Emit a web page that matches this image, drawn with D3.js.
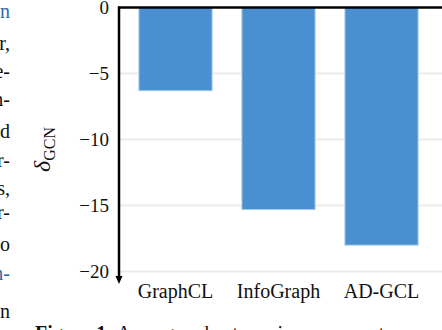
<!DOCTYPE html>
<html>
<head>
  <meta charset="UTF-8">
  <title>Robustness bars</title>
  <script src="https://d3js.org/d3.v7.min.js"></script>
  <style>
    body { margin: 0; background: #fff; overflow: hidden; }
    svg text { font-family: "Liberation Serif", "DejaVu Serif", serif; }
  </style>
</head>
<body>
  <div id="chart"></div>
  <script>
    const categories = ["GraphCL", "InfoGraph", "AD-GCL"];
    const deltas = [-6.3, -15.3, -18.0];
    const yTicks = [0, -5, -10, -15, -20];
    const gridTicks = [-5, -10, -15, -20];
    // clipped words of the paper column left of the figure
    const sideText = [
      { t: "n", blue: true }, { t: "r," }, { t: "e-" }, { t: "n-" }, { t: "d" }, { t: "r-" },
      { t: "s," }, { t: "r-" }, { t: "o" }, { t: "n-", blue: true }, { t: "n" }
    ];
    const sideBaselines = [18, 50, 78, 106, 138, 167, 195, 219, 251, 280, 318];

    const W = 442, H = 330;
    const axisX = 119;

    const svg = d3.select("#chart").append("svg")
      .attr("width", W).attr("height", H);

    const y = d3.scaleLinear().domain([0, -20]).range([7.5, 271.5]);
    const x = d3.scaleBand().domain(categories).range([124, 433])
      .paddingInner(0.29).paddingOuter(0.145);

    // grid
    svg.append("g").selectAll("line").data(gridTicks).enter().append("line")
      .attr("x1", axisX).attr("x2", W)
      .attr("y1", d => y(d)).attr("y2", d => y(d))
      .attr("stroke", "#ececec").attr("stroke-width", 2);

    // bars
    svg.append("g").selectAll("rect").data(deltas).enter().append("rect")
      .attr("x", (d, i) => x(categories[i]))
      .attr("y", y(0))
      .attr("width", x.bandwidth())
      .attr("height", d => y(d) - y(0))
      .attr("fill", "#4a8fcf")
      .attr("stroke", "#a5c8ea").attr("stroke-width", 1);

    // top line
    svg.append("line").attr("x1", axisX - 1).attr("x2", W)
      .attr("y1", y(0)).attr("y2", y(0))
      .attr("stroke", "#000").attr("stroke-width", 2.5);

    // y axis with arrow
    const yAxis = d3.axisLeft(y).tickValues(yTicks).tickSize(0).tickPadding(10)
      .tickFormat(d3.format("d"));
    const gy = svg.append("g").attr("transform", `translate(${axisX},0)`).call(yAxis);
    gy.select(".domain").remove();
    gy.selectAll("text").attr("font-size", 19).attr("fill", "#111")
      .attr("font-family", "Liberation Serif, serif");
    svg.append("line").attr("x1", axisX).attr("x2", axisX)
      .attr("y1", y(0) - 1).attr("y2", 277)
      .attr("stroke", "#000").attr("stroke-width", 2.5);
    svg.append("path")
      .attr("d", `M${axisX - 3.5},276 L${axisX + 3.5},276 L${axisX},284 Z`)
      .attr("fill", "#000");

    // x labels
    const xAxis = d3.axisBottom(x).tickSize(0).tickPadding(0);
    const gx = svg.append("g").attr("transform", "translate(0,284)").call(xAxis);
    gx.select(".domain").remove();
    gx.selectAll("text").attr("font-size", 20).attr("fill", "#111")
      .attr("font-family", "Liberation Serif, serif");

    // y label: delta_GCN rotated
    const yl = svg.append("text")
      .attr("transform", "translate(50,172) rotate(-90)")
      .attr("fill", "#111");
    yl.append("tspan").attr("font-size", 24).attr("font-style", "italic").text("δ");
    yl.append("tspan").attr("font-size", 16).attr("dy", 5).text("GCN");

    // paper text fragments
    svg.append("g").selectAll("text").data(sideText).enter().append("text")
      .attr("x", 10).attr("y", (d, i) => sideBaselines[i])
      .attr("text-anchor", "end").attr("font-size", 20)
      .attr("fill", d => d.blue ? "#2c6aa8" : "#111")
      .text(d => d.t);

    // caption (clipped at bottom)
    const cap = svg.append("text").attr("x", 35).attr("y", 340)
      .attr("font-size", 20).attr("fill", "#111");
    cap.append("tspan").attr("font-weight", "bold").text("Figure 1:");
    cap.append("tspan").text(" Average robustness improvement");
  </script>
</body>
</html>
